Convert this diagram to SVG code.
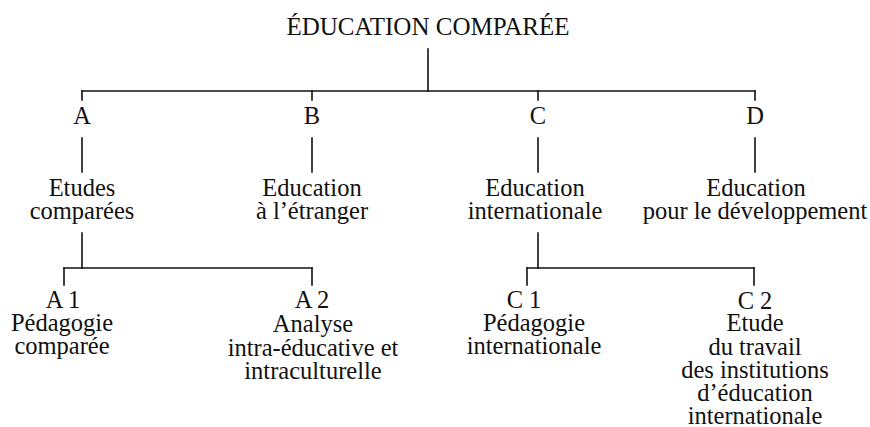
<svg xmlns="http://www.w3.org/2000/svg" width="870" height="427" viewBox="0 0 870 427">
<style>
text{font-family:"Liberation Serif","Times New Roman",serif;font-size:24.5px;fill:#111;text-anchor:middle}
.title{font-size:25px}
.conn line{stroke:#111;stroke-width:1.6;stroke-linecap:square}
</style>
<rect width="870" height="427" fill="#fff"/>
<g class="conn" id="connectors">
<line x1="428" y1="49" x2="428" y2="91"/>
<line x1="82" y1="91" x2="755" y2="91"/>
<line x1="82" y1="91" x2="82" y2="100"/>
<line x1="312" y1="91" x2="312" y2="100"/>
<line x1="538" y1="91" x2="538" y2="100"/>
<line x1="755" y1="91" x2="755" y2="100"/>
<line x1="82" y1="138" x2="82" y2="172"/>
<line x1="312" y1="138" x2="312" y2="172"/>
<line x1="538" y1="138" x2="538" y2="172"/>
<line x1="755" y1="138" x2="755" y2="172"/>
<line x1="82" y1="233" x2="82" y2="268"/>
<line x1="64" y1="268" x2="312" y2="268"/>
<line x1="64" y1="268" x2="64" y2="285"/>
<line x1="312" y1="268" x2="312" y2="285"/>
<line x1="538" y1="233" x2="538" y2="268"/>
<line x1="527" y1="268" x2="754" y2="268"/>
<line x1="527" y1="268" x2="527" y2="285"/>
<line x1="754" y1="268" x2="754" y2="285"/>
</g>
<g id="root"><text class="title" x="428" y="35">ÉDUCATION COMPARÉE</text></g>
<g id="A"><text x="82" y="124">A</text><text x="82" y="196">Etudes</text><text x="82" y="219">comparées</text></g>
<g id="B"><text x="312" y="124">B</text><text x="312" y="196">Education</text><text x="312" y="219">à l’étranger</text></g>
<g id="C"><text x="538" y="124">C</text><text x="535" y="196">Education</text><text x="535" y="219">internationale</text></g>
<g id="D"><text x="755" y="124">D</text><text x="756" y="196">Education</text><text x="755" y="219">pour le développement</text></g>
<g id="A1"><text x="63" y="308">A 1</text><text x="62" y="331">Pédagogie</text><text x="62" y="354">comparée</text></g>
<g id="A2"><text x="312" y="308">A 2</text><text x="313" y="332">Analyse</text><text x="313" y="356">intra-éducative et</text><text x="313" y="379">intraculturelle</text></g>
<g id="C1"><text x="524" y="308">C 1</text><text x="534" y="331">Pédagogie</text><text x="534" y="354">internationale</text></g>
<g id="C2"><text x="755" y="309">C 2</text><text x="755" y="331">Etude</text><text x="755" y="355">du travail</text><text x="755" y="378">des institutions</text><text x="755" y="401">d’éducation</text><text x="755" y="424">internationale</text></g>
</svg>
